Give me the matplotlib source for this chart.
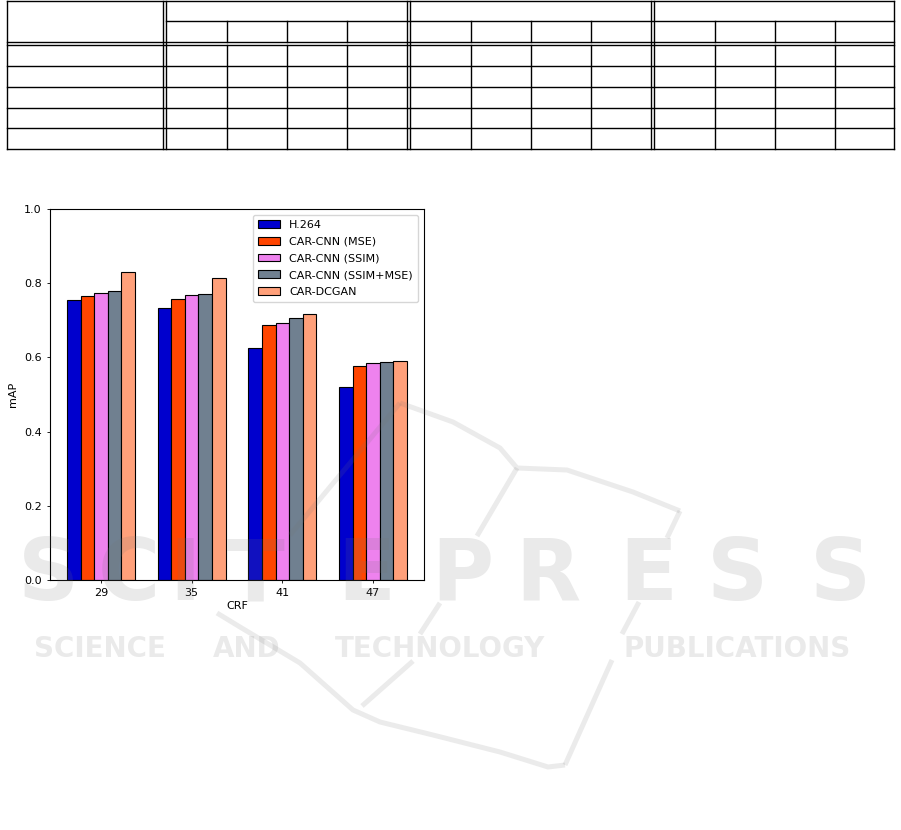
import numpy as np
import matplotlib
matplotlib.use("Agg")
import matplotlib.pyplot as plt
from matplotlib.lines import Line2D

crf_labels = ["29", "35", "41", "47"]
series_names = ["H.264", "CAR-CNN (MSE)", "CAR-CNN (SSIM)", "CAR-CNN (SSIM+MSE)", "CAR-DCGAN"]
h264 = [0.755, 0.733, 0.624, 0.519]
car_mse = [0.765, 0.757, 0.686, 0.576]
car_ssim = [0.773, 0.767, 0.693, 0.586]
car_ssim_mse = [0.778, 0.771, 0.707, 0.587]
car_dcgan = [0.829, 0.815, 0.718, 0.591]
bar_colors = ["mediumblue", "orangered", "violet", "slategray", "lightsalmon"]

W, H = 901, 830
fig = plt.figure(figsize=(W / 100, H / 100), dpi=100)

# empty table on top of the page (pixel coords)
tab = fig.add_axes([0, 0, 1, 1])
tab.set_xlim(0, W)
tab.set_ylim(H, 0)
tab.axis("off")
lw = 1.0
left, right = 6.5, 894
top, bottom = 1, 149.5
row_lines = [66, 87.5, 108, 128.5]
col_lines = [226.5, 286.5, 346.5, 470.5, 530.5, 590.5, 714.5, 774.5, 834.5]
double_cols = [(162.5, 165.8), (406.7, 410.3), (650.7, 654.0)]
for y in [top, bottom] + row_lines:
    tab.add_line(Line2D([left, right], [y, y], color="black", lw=lw))
tab.add_line(Line2D([left, right], [42.3, 42.3], color="black", lw=lw))
tab.add_line(Line2D([left, right], [44.8, 44.8], color="black", lw=lw))
tab.add_line(Line2D([165.8, right], [21.3, 21.3], color="black", lw=lw))
for x in [left, right]:
    tab.add_line(Line2D([x, x], [top, bottom], color="black", lw=lw))
for x in col_lines:
    tab.add_line(Line2D([x, x], [21.3, 42.3], color="black", lw=lw))
    tab.add_line(Line2D([x, x], [44.8, bottom], color="black", lw=lw))
for a, b in double_cols:
    for x in (a, b):
        tab.add_line(Line2D([x, x], [top, bottom], color="black", lw=lw))

# bar chart
ax = fig.add_axes([50 / W, 1 - 580 / H, 374 / W, 371 / H])
values = [h264, car_mse, car_ssim, car_ssim_mse, car_dcgan]
x = np.arange(len(crf_labels))
width = 0.15
for i, (vals, name, c) in enumerate(zip(values, series_names, bar_colors)):
    ax.bar(x + (i - 2) * width, vals, width, color=c, edgecolor="black",
           linewidth=0.8, label=name)
ax.set_ylim(0, 1.0)
ax.set_xticks(x)
ax.set_xticklabels(crf_labels)
ax.set_xlabel("CRF", fontsize=8, labelpad=2)
ax.set_ylabel("mAP", fontsize=8)
ax.tick_params(labelsize=8, length=2.5, width=0.6)
for s in ax.spines.values():
    s.set_linewidth(0.8)
ax.legend(loc="upper right", fontsize=8, handlelength=2.0, borderpad=0.5,
          labelspacing=0.6)

# faint publisher watermark over the page
wm = fig.add_axes([0, 0, 1, 1], zorder=10)
wm.set_xlim(0, W)
wm.set_ylim(H, 0)
wm.axis("off")
wm_kw = dict(ha="center", va="baseline", fontweight="bold", color="0.45",
             alpha=0.15, family="DejaVu Sans")
big_letters = list("SCITEPRESS")
big_x = [48, 129, 185, 256, 366, 462, 548, 648, 737, 840]
for ch, cx in zip(big_letters, big_x):
    wm.text(cx, 600, ch, fontsize=61, **wm_kw)
sub_words = ["SCIENCE", "AND", "TECHNOLOGY", "PUBLICATIONS"]
sub_x = [100, 247, 440, 737]
for wd, cx in zip(sub_words, sub_x):
    wm.text(cx, 657, wd, fontsize=20, **wm_kw)

logo_strokes = [
    [(400, 403), (453, 422), (500, 448), (517, 468), (567, 470), (633, 492), (680, 511)],
    [(400, 403), (290, 535)],
    [(680, 511), (667, 538)],
    [(639, 602), (622, 634)],
    [(612, 660), (565, 765)],
    [(517, 468), (477, 536)],
    [(440, 603), (420, 634)],
    [(413, 661), (362, 706)],
    [(217, 613), (240, 627), (300, 663), (353, 710), (380, 722), (433, 735),
     (500, 752), (548, 767), (565, 765)],
]
for pts in logo_strokes:
    xs, ys = zip(*pts)
    wm.add_line(Line2D(xs, ys, color="0.45", alpha=0.14, lw=3.6,
                       solid_capstyle="butt", solid_joinstyle="round"))

fig.savefig("out.png", dpi=100)
